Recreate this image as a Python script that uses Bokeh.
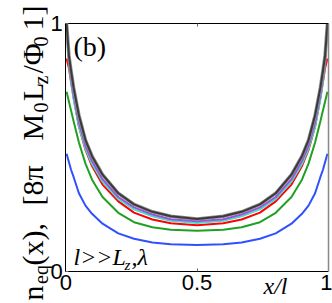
import math
from bokeh.plotting import figure
from bokeh.models import Range1d, FixedTicker, Label, LinearAxis
from bokeh.embed import file_html
from bokeh.resources import INLINE

# ---- data ----
x_pos = [0.003, 0.012, 0.02, 0.03, 0.05, 0.075, 0.1, 0.14, 0.2, 0.26, 0.33, 0.4, 0.5,
         0.6, 0.67, 0.74, 0.8, 0.86, 0.9, 0.925, 0.95, 0.97, 0.98, 0.988, 0.997]

n_blue = [0.475, 0.44, 0.41, 0.38, 0.315, 0.265, 0.232, 0.192, 0.153, 0.131, 0.116, 0.109, 0.106,
          0.109, 0.116, 0.131, 0.153, 0.192, 0.232, 0.265, 0.315, 0.38, 0.41, 0.44, 0.475]
n_green = [0.725, 0.685, 0.65, 0.605, 0.52, 0.435, 0.37, 0.30, 0.236, 0.198, 0.178, 0.168, 0.163,
           0.168, 0.178, 0.198, 0.236, 0.30, 0.37, 0.435, 0.52, 0.605, 0.65, 0.685, 0.725]
n_red = [0.86, 0.82, 0.765, 0.70, 0.585, 0.49, 0.425, 0.35, 0.282, 0.237, 0.209, 0.194, 0.186,
         0.194, 0.209, 0.237, 0.282, 0.35, 0.425, 0.49, 0.585, 0.70, 0.765, 0.82, 0.86]
n_cyan = [0.99, 0.835, 0.765, 0.695, 0.585, 0.495, 0.433, 0.362, 0.292, 0.25, 0.222, 0.204, 0.195,
          0.204, 0.222, 0.25, 0.292, 0.362, 0.433, 0.495, 0.585, 0.695, 0.765, 0.835, 0.99]
n_purple = [1.0, 0.845, 0.78, 0.71, 0.60, 0.507, 0.445, 0.372, 0.30, 0.258, 0.229, 0.21, 0.202,
            0.21, 0.229, 0.258, 0.30, 0.372, 0.445, 0.507, 0.60, 0.71, 0.78, 0.845, 1.0]
n_black = [1.0, 0.87, 0.81, 0.74, 0.63, 0.53, 0.465, 0.39, 0.315, 0.27, 0.24, 0.222, 0.211,
           0.222, 0.24, 0.27, 0.315, 0.39, 0.465, 0.53, 0.63, 0.74, 0.81, 0.87, 1.0]

x_ticks = [0, 0.5, 1]
x_tick_labels = ["0", "0.5", "1"]
y_ticks = [0, 1]
y_tick_labels = ["0", "1"]

SERIF = "Liberation Serif"
SANS = "Liberation Sans"

W, H = 332, 303
# data box occupies px 65.3..327.7 horizontally and 23.3..270.7 vertically
x0, x1 = 65.3, 327.7
y0, y1 = 270.7, 23.3
sx_u = (x1 - x0)
sy_u = (y0 - y1)

p = figure(width=W, height=H,
           x_range=Range1d(-x0 / sx_u, 1 + (W - x1) / sx_u),
           y_range=Range1d(-(H - y0) / sy_u, 1 + y1 / sy_u),
           output_backend="svg", toolbar_location=None,
           min_border_left=0, min_border_right=0, min_border_top=0, min_border_bottom=0)
p.grid.visible = False
p.outline_line_color = None
p.background_fill_color = "white"
p.border_fill_color = "white"

# curves
p.line(x_pos, n_blue, line_color="#3050ff", line_width=2)
p.line(x_pos, n_green, line_color="#20a020", line_width=2)
p.line(x_pos, n_red, line_color="#ff0000", line_width=2)
p.line(x_pos, n_cyan, line_color="#40e0c8", line_width=2)
p.line(x_pos, n_purple, line_color="#a050e0", line_width=2)
p.line(x_pos, n_black, line_color="#909090", line_width=3.5)
p.line(x_pos, n_black, line_color="#3a3a3a", line_width=2)

# axes drawn at the data box edges
for ax in (p.xaxis[0], p.yaxis[0]):
    ax.fixed_location = 0
    ax.bounds = (0, 1)
    ax.axis_line_color = "black"
    ax.axis_line_width = 1
    ax.major_tick_in = 3
    ax.major_tick_out = 0
    ax.minor_tick_line_color = None
    ax.major_tick_line_color = "#666666"
    ax.major_label_text_font = SANS
    ax.major_label_text_font_size = "22px"
    ax.major_label_text_color = "black"

p.xaxis[0].ticker = FixedTicker(ticks=x_ticks)
p.xaxis[0].major_label_overrides = {t: s for t, s in zip(x_ticks, x_tick_labels)}
p.xaxis[0].major_label_standoff = 4
p.yaxis[0].ticker = FixedTicker(ticks=y_ticks)
p.yaxis[0].major_label_overrides = {t: s for t, s in zip(y_ticks, y_tick_labels)}
p.yaxis[0].major_label_standoff = 3

# top edge of the box, with its inward tick at the middle (minor tick: no label)
top_ax = LinearAxis(fixed_location=1, bounds=(0, 1),
                    ticker=FixedTicker(ticks=[], minor_ticks=x_ticks[1:2]),
                    axis_line_color="black", major_tick_line_color=None,
                    minor_tick_in=3, minor_tick_out=0, minor_tick_line_color="#666666")
p.add_layout(top_ax, "above")
# right edge of the box (grey)
right_ax = LinearAxis(fixed_location=1, bounds=(0, 1), ticker=FixedTicker(ticks=[]),
                      axis_line_color="#888888", axis_line_width=1.5,
                      major_tick_line_color=None, minor_tick_line_color=None)
p.add_layout(right_ax, "right")

def lab(text, sx, sy, size, font=SERIF, style="normal", angle=0.0):
    p.add_layout(Label(x=sx, y=sy, x_units="screen", y_units="screen", text=text,
                       text_font=font, text_font_style=style, text_font_size=size,
                       text_color="black", angle=angle, text_align="left",
                       text_baseline="alphabetic"))

R = math.pi / 2
# y axis label (rotated), built from pieces for the subscripts
lab("n", 32, 3, "30px", angle=R)
lab("eq", 40, 19.5, "20px", angle=R)
lab("(x),", 32, 38, "30px", angle=R)
lab("[8\u03c0", 32, 98, "30px", angle=R)
lab("M", 32, 163, "30px", angle=R)
lab("0", 40, 191, "20px", angle=R)
lab("L", 32, 202.5, "30px", angle=R)
lab("z", 40, 219, "20px", angle=R)
lab("/\u03a6", 32, 230, "30px", angle=R)
lab("0", 40, 257, "20px", angle=R)
lab("1]", 32, 273, "30px", angle=R)

# x axis label
lab("x/l", 263, 18, "24px", style="italic")

# panel tag
lab("(b)", 73, 257, "28px")

# regime annotation
lab("l>>L", 73, 47, "24px", style="italic")
lab("z", 124, 39, "15px", style="italic")
lab(",\u03bb", 131, 47, "24px", style="italic")

open("out.html", "w").write(file_html(p, INLINE))
